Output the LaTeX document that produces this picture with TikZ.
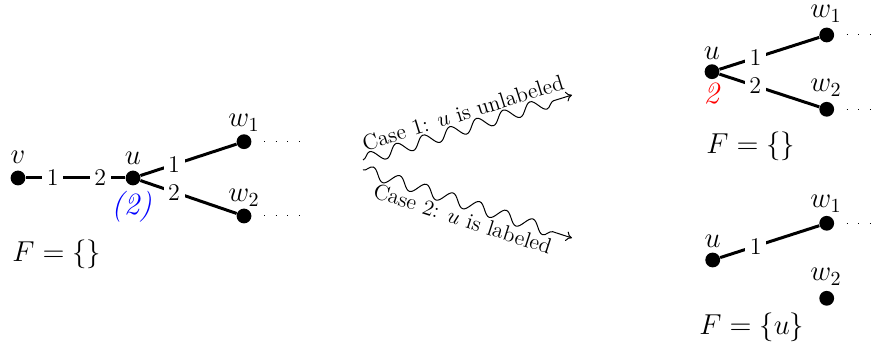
\documentclass[tikz,border=0pt]{standalone}
\usetikzlibrary{decorations.pathmorphing,arrows.meta}
\begin{document}
\begin{tikzpicture}[x=0.5pt,y=-0.5pt,
  dot/.style={circle,fill,inner sep=0pt,minimum size=7.4pt},
  vlab/.style={anchor=base,inner sep=0pt,font=\fontsize{14.4}{17}\selectfont},
  statelab/.style={anchor=base,inner sep=0pt,font=\fontsize{15.5}{18}\selectfont},
  elab/.style={fill=white,inner sep=2.3pt,font=\fontsize{12}{14}\selectfont},
  link/.style={line width=1.5pt},
  trail/.style={line width=0.5pt,dash pattern=on 0.5pt off 5.3pt},
  setlab/.style={anchor=base west,inner sep=0pt,font=\fontsize{14.4}{17}\selectfont},
  casearrow/.style={decorate,decoration={snake,amplitude=3pt,segment length=14pt,post length=4pt},-{To[length=3pt,width=5pt]},line width=0.5pt},
  caselab/.style={sloped,inner sep=1pt,font=\fontsize{11}{13}\selectfont}
]
\useasboundingbox (0,0) rectangle (877,356);

% ---- initial configuration ----
\node[dot] (v) at (18,178) {};
\node[dot] (u) at (133,178) {};
\node[dot] (w1) at (244,141.7) {};
\node[dot] (w2) at (244,216) {};
\node[vlab] (vl) at (18,164) {$v$};
\node[vlab] (ul) at (133,165) {$u$};
\node[vlab] (w1l) at (244,127) {$w_1$};
\node[vlab] (w2l) at (244,202) {$w_2$};
\node[statelab,text=blue] (ulab) at (131.5,215) {\textit{(2)}};
\draw[link] (v) -- node[elab,pos=0.27] {1} node[elab,pos=0.75] {2} (u);
\draw[link] (u) -- node[elab,pos=0.35] {1} (w1);
\draw[link] (u) -- node[elab,pos=0.35] {2} (w2);
\draw[trail] ([xshift=10pt]w1.center) -- ++(37,0) coordinate (w1t);
\draw[trail] ([xshift=10pt]w2.center) -- ++(37,0) coordinate (w2t);
\node[setlab] (F0) at (12,262) {$F=\{\}$};

% ---- the two cases ----
\coordinate (c1s) at (363,160);
\coordinate (c1e) at (572,95);
\coordinate (c2s) at (363,170);
\coordinate (c2e) at (572,238);
\draw[casearrow] (c1s) -- node[caselab,above=2.5pt] {Case 1: $u$ is unlabeled} (c1e);
\draw[casearrow] (c2s) -- node[caselab,below=2.5pt] {Case 2: $u$ is labeled} (c2e);

% ---- case 1: u stays unlabeled ----
\node[dot] (ua) at (712,71.7) {};
\node[dot] (w1a) at (826.7,35) {};
\node[dot] (w2a) at (826.7,109.3) {};
\node[vlab] (ual) at (712,60) {$u$};
\node[vlab] (w1al) at (826,18) {$w_1$};
\node[vlab] (w2al) at (826,92) {$w_2$};
\node[statelab,text=red] (uastate) at (712,104) {\textit{2}};
\draw[link] (ua) -- node[elab,pos=0.36] {1} (w1a);
\draw[link] (ua) -- node[elab,pos=0.36] {2} (w2a);
\draw[trail] ([xshift=10pt]w1a.center) -- ++(37,0) coordinate (w1at);
\draw[trail] ([xshift=10pt]w2a.center) -- ++(37,0) coordinate (w2at);
\node[setlab] (F1) at (706,154) {$F=\{\}$};

% ---- case 2: u is labeled ----
\node[dot] (ub) at (712.7,260) {};
\node[dot] (w1b) at (826.7,223.3) {};
\node[dot] (w2b) at (826.7,298.3) {};
\node[vlab] (ubl) at (712.7,248) {$u$};
\node[vlab] (w1bl) at (826,208) {$w_1$};
\node[vlab] (w2bl) at (826,281) {$w_2$};
\draw[link] (ub) -- node[elab,pos=0.36] {1} (w1b);
\draw[trail] ([xshift=10pt]w1b.center) -- ++(37,0) coordinate (w1bt);
\node[setlab] (F2) at (699,335) {$F=\{u\}$};
\end{tikzpicture}
\end{document}
